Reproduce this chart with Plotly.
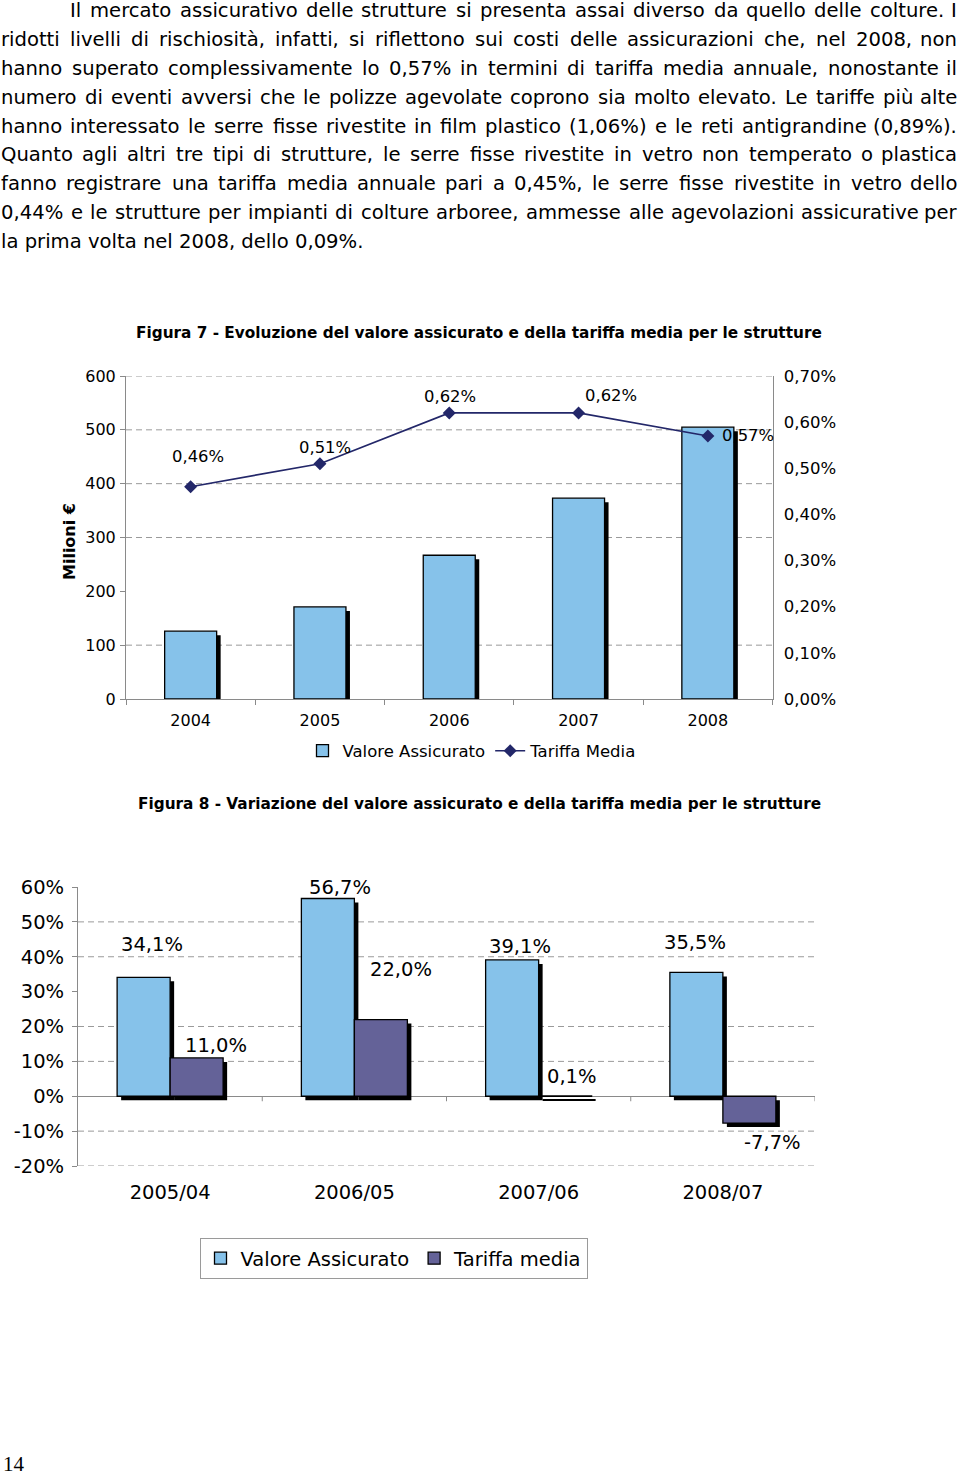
import plotly.graph_objects as go

# ------------------------------------------------------------------ data
PARAGRAPH_LINES = [
    "Il mercato assicurativo delle strutture si presenta assai diverso da quello delle colture. I",
    "ridotti livelli di rischiosità, infatti, si riflettono sui costi delle assicurazioni che, nel 2008, non",
    "hanno superato complessivamente lo 0,57% in termini di tariffa media annuale, nonostante il",
    "numero di eventi avversi che le polizze agevolate coprono sia molto elevato. Le tariffe più alte",
    "hanno interessato le serre fisse rivestite in film plastico (1,06%) e le reti antigrandine (0,89%).",
    "Quanto agli altri tre tipi di strutture, le serre fisse rivestite in vetro non temperato o plastica",
    "fanno registrare una tariffa media annuale pari a 0,45%, le serre fisse rivestite in vetro dello",
    "0,44% e le strutture per impianti di colture arboree, ammesse alle agevolazioni assicurative per",
    "la prima volta nel 2008, dello 0,09%.",
]
FIG7_TITLE = "Figura 7 - Evoluzione del valore assicurato e della tariffa media per le strutture"
FIG8_TITLE = "Figura 8 - Variazione del valore assicurato e della tariffa media per le strutture"
Y1_TITLE = "Milioni €"

YEARS = ["2004", "2005", "2006", "2007", "2008"]
VALORE_ASSICURATO = [126, 171, 267, 373, 505]      # Milioni €
TARIFFA_MEDIA = [0.46, 0.51, 0.62, 0.62, 0.57]     # %
NAME_VALORE_1 = "Valore Assicurato"
NAME_TARIFFA_1 = "Tariffa Media"
Y1_TICKS = [0, 100, 200, 300, 400, 500, 600]
Y2_TICKS = [0.0, 0.1, 0.2, 0.3, 0.4, 0.5, 0.6, 0.7]
GRID1 = [100, 300, 400, 500, 600]

PERIODI = ["2005/04", "2006/05", "2007/06", "2008/07"]
VAR_VALORE = [34.1, 56.7, 39.1, 35.5]              # %
VAR_TARIFFA = [11.0, 22.0, 0.1, -7.7]              # %
NAME_VALORE_2 = "Valore Assicurato"
NAME_TARIFFA_2 = "Tariffa media"
Y3_TICKS = [-20, -10, 0, 10, 20, 30, 40, 50, 60]
GRID2 = [-20, -10, 10, 20, 40, 50]

PAGE_NUMBER = "14"

# ------------------------------------------------------------------ style / geometry
W, H = 960, 1476
FONT = "DejaVu Sans"
C_BLUE = "#86C2EA"
C_PURPLE = "#646298"
C_LINE = "#232769"
C_AXIS = "#8a8a8a"
C_GRID = "#9a9a9a"

def px(x):
    return x / W

def py(y):
    return 1 - y / H

# chart 1 plot area (pixels)
C1_X0, C1_X1, C1_YT, C1_YB = 126, 772.5, 376, 699
# chart 2 plot area (pixels)
C2_X0, C2_X1, C2_YT, C2_YB = 78, 815, 887, 1166
Y1_RANGE = [0, 600]
Y2_RANGE = [0, 0.70]
Y3_RANGE = [-20, 60]

SHADOW_PX = 4
cat1_px = (C1_X1 - C1_X0) / len(YEARS)
cat2_px = (C2_X1 - C2_X0) / len(PERIODI)
BW1 = 52 / cat1_px
BW2 = 53 / cat2_px
sdx1 = SHADOW_PX / cat1_px
sdy1 = SHADOW_PX * (Y1_RANGE[1] - Y1_RANGE[0]) / (C1_YB - C1_YT)
sdx2 = SHADOW_PX / cat2_px
sdy2 = SHADOW_PX * (Y3_RANGE[1] - Y3_RANGE[0]) / (C2_YB - C2_YT)

def it_num(v, nd):
    return f"{v:.{nd}f}".replace(".", ",")

def it_pct(v, nd):
    return it_num(v, nd) + "%"

fig = go.Figure()

# ---------------- chart 1
fig.add_trace(go.Bar(
    x=YEARS, y=VALORE_ASSICURATO, base=[-sdy1] * len(YEARS),
    offset=-BW1 / 2 + sdx1, width=BW1, marker=dict(color="black", line=dict(width=0)),
    showlegend=False, hoverinfo="skip", xaxis="x", yaxis="y"))
fig.add_trace(go.Bar(
    x=YEARS, y=VALORE_ASSICURATO, offset=-BW1 / 2, width=BW1, name=NAME_VALORE_1,
    marker=dict(color=C_BLUE, line=dict(color="black", width=1.3)),
    legend="legend", xaxis="x", yaxis="y"))
fig.add_trace(go.Scatter(
    x=YEARS, y=TARIFFA_MEDIA, mode="lines+markers", name=NAME_TARIFFA_1,
    line=dict(color=C_LINE, width=1.6),
    marker=dict(symbol="diamond", size=10, color=C_LINE),
    legend="legend", xaxis="x", yaxis="y2"))

# ---------------- chart 2
fig.add_trace(go.Bar(
    x=PERIODI, y=VAR_VALORE, base=[-sdy2] * len(PERIODI),
    offset=-BW2 + sdx2, width=BW2, marker=dict(color="black", line=dict(width=0)),
    showlegend=False, hoverinfo="skip", xaxis="x2", yaxis="y3"))
fig.add_trace(go.Bar(
    x=PERIODI, y=VAR_VALORE, offset=-BW2, width=BW2, name=NAME_VALORE_2,
    marker=dict(color=C_BLUE, line=dict(color="black", width=1.3)),
    legend="legend2", xaxis="x2", yaxis="y3"))
fig.add_trace(go.Bar(
    x=PERIODI, y=VAR_TARIFFA, base=[-sdy2] * len(PERIODI),
    offset=sdx2, width=BW2, marker=dict(color="black", line=dict(width=0)),
    showlegend=False, hoverinfo="skip", xaxis="x2", yaxis="y3"))
fig.add_trace(go.Bar(
    x=PERIODI, y=VAR_TARIFFA, offset=0, width=BW2, name=NAME_TARIFFA_2,
    marker=dict(color=C_PURPLE, line=dict(color="black", width=1.3)),
    legend="legend2", xaxis="x2", yaxis="y3"))

# ------------------------------------------------------------------ annotations
ann = []

# justified paragraph, word by word
PARA_FS = 19.6
CHAR_W = {
    " ": 651, "%": 1946, "(": 799, ")": 799, ",": 651, ".": 651,
    "I": 604, "L": 1141, "Q": 1612,
    "a": 1255, "b": 1300, "c": 1126, "d": 1300, "e": 1260, "f": 721, "g": 1300,
    "h": 1298, "i": 569, "j": 569, "k": 1186, "l": 569, "m": 1995, "n": 1298,
    "o": 1253, "p": 1300, "q": 1300, "r": 842, "s": 1067, "t": 803, "u": 1298,
    "v": 1212, "w": 1675, "x": 1212, "y": 1212, "z": 1075, "à": 1255, "ù": 1298,
}

def tw(s):
    return sum(CHAR_W.get(c, 1303) for c in s) / 2048 * PARA_FS

PARA_RIGHT = 958
for i, line in enumerate(PARAGRAPH_LINES):
    x_start = 69 if i == 0 else 0
    base = 17 + 28.95 * i
    yc = base - 0.346 * PARA_FS
    words = line.split(" ")
    last = i == len(PARAGRAPH_LINES) - 1
    if last:
        ann.append(dict(text=line, x=px(x_start), y=py(yc), xref="paper", yref="paper",
                        xanchor="left", yanchor="middle", showarrow=False,
                        font=dict(size=PARA_FS, family=FONT, color="black"), borderpad=0))
        continue
    widths = [tw(w) for w in words]
    gap = (PARA_RIGHT - x_start - sum(widths)) / (len(words) - 1)
    x = x_start
    for j, w in enumerate(words):
        if j == len(words) - 1:
            ann.append(dict(text=w, x=px(PARA_RIGHT), y=py(yc), xref="paper", yref="paper",
                            xanchor="right", yanchor="middle", showarrow=False,
                            font=dict(size=PARA_FS, family=FONT, color="black"), borderpad=0))
        else:
            ann.append(dict(text=w, x=px(x), y=py(yc), xref="paper", yref="paper",
                            xanchor="left", yanchor="middle", showarrow=False,
                            font=dict(size=PARA_FS, family=FONT, color="black"), borderpad=0))
        x += widths[j] + gap

# titles
ann.append(dict(text="<b>" + FIG7_TITLE + "</b>", x=px(479), y=py(333), xref="paper", yref="paper",
                xanchor="center", yanchor="middle", showarrow=False,
                font=dict(size=15.3, family=FONT, color="black")))
ann.append(dict(text="<b>" + FIG8_TITLE + "</b>", x=px(479), y=py(804), xref="paper", yref="paper",
                xanchor="center", yanchor="middle", showarrow=False,
                font=dict(size=15.3, family=FONT, color="black")))
ann.append(dict(text="<b>" + Y1_TITLE + "</b>", x=px(69), y=py(542), xref="paper", yref="paper",
                xanchor="center", yanchor="middle", showarrow=False, textangle=-90,
                font=dict(size=16, family=FONT, color="black")))

# chart 1 line labels (dx, up) in px
LBL1_SHIFT = [(7, 30), (5, 16), (1, 16), (32, 17), (40, 0)]
for i, v in enumerate(TARIFFA_MEDIA):
    dx, up = LBL1_SHIFT[i]
    ann.append(dict(text=it_pct(v, 2), x=i, y=v, xref="x", yref="y2",
                    xanchor="center", yanchor="middle", showarrow=False,
                    xshift=dx, yshift=up, font=dict(size=16.4, family=FONT, color="black")))

# chart 2 bar labels
LBL2_BLUE = [(8.5, 33), (12.5, 11), (7.5, 13.5), (-1.5, 30)]
LBL2_PURP = [(19.5, 12.6), (20.5, 50), (6.5, 19), (23.5, -19)]
for i, v in enumerate(VAR_VALORE):
    dx, up = LBL2_BLUE[i]
    ann.append(dict(text=it_pct(v, 1), x=i - BW2 / 2, y=v, xref="x2", yref="y3",
                    xanchor="center", yanchor="middle", showarrow=False,
                    xshift=dx, yshift=up, font=dict(size=19.5, family=FONT, color="black")))
for i, v in enumerate(VAR_TARIFFA):
    dx, up = LBL2_PURP[i]
    ann.append(dict(text=it_pct(v, 1), x=i + BW2 / 2, y=v, xref="x2", yref="y3",
                    xanchor="center", yanchor="middle", showarrow=False,
                    xshift=dx, yshift=up, font=dict(size=19.5, family=FONT, color="black")))

# page number
ann.append(dict(text=PAGE_NUMBER, x=px(1), y=py(1464), xref="paper", yref="paper",
                xanchor="left", yanchor="middle", showarrow=False,
                font=dict(size=21, family="Liberation Serif", color="black")))

# ------------------------------------------------------------------ shapes
shapes = []
for g in GRID1:
    shapes.append(dict(type="line", xref="x domain", yref="y", x0=0, x1=1, y0=g, y1=g,
                       line=dict(color=C_GRID, width=1, dash="6px,4px"), layer="below"))
for g in GRID2:
    shapes.append(dict(type="line", xref="x2 domain", yref="y3", x0=0, x1=1, y0=g, y1=g,
                       line=dict(color=C_GRID, width=1, dash="6px,4px"), layer="below"))
tick_dy = 5 * (Y3_RANGE[1] - Y3_RANGE[0]) / (C2_YB - C2_YT)
for k in range(len(PERIODI)):
    shapes.append(dict(type="line", xref="x2", yref="y3", x0=k + 0.5, x1=k + 0.5,
                       y0=0, y1=-tick_dy, line=dict(color=C_AXIS, width=1), layer="below"))

# ------------------------------------------------------------------ layout
fig.update_layout(
    width=W, height=H, margin=dict(l=0, r=0, t=0, b=0, pad=0, autoexpand=False),
    paper_bgcolor="white", plot_bgcolor="rgba(0,0,0,0)",
    font=dict(family=FONT, color="black"),
    separators=",.", barmode="overlay",
    annotations=ann, shapes=shapes,
    xaxis=dict(domain=[px(C1_X0), px(C1_X1)], anchor="y", type="category",
               range=[-0.5, len(YEARS) - 0.5], showline=True, linecolor=C_AXIS,
               ticks="outside", tickson="boundaries", ticklen=5, tickcolor=C_AXIS,
               tickfont=dict(size=16), showgrid=False, fixedrange=True, automargin=False,
               ticklabelstandoff=7),
    yaxis=dict(domain=[py(C1_YB), py(C1_YT)], anchor="x", range=Y1_RANGE,
               tickvals=Y1_TICKS, showline=True, linecolor=C_AXIS, ticks="outside",
               ticklen=5, tickcolor=C_AXIS, tickfont=dict(size=16), showgrid=False,
               zeroline=False, ticklabelstandoff=1, automargin=False),
    yaxis2=dict(overlaying="y", side="right", anchor="x", range=Y2_RANGE,
                tickvals=Y2_TICKS, ticktext=[it_pct(v, 2) for v in Y2_TICKS], showline=True,
                linecolor=C_AXIS, ticks="", tickfont=dict(size=16.5), showgrid=False,
                zeroline=False, ticklabelstandoff=7, automargin=False),
    xaxis2=dict(domain=[px(C2_X0), px(C2_X1)], anchor="y3", type="category",
                range=[-0.5, len(PERIODI) - 0.5], showline=False, ticks="",
                tickfont=dict(size=19.5), showgrid=False, ticklabelstandoff=12, automargin=False),
    yaxis3=dict(domain=[py(C2_YB), py(C2_YT)], anchor="x2", range=Y3_RANGE,
                tickvals=Y3_TICKS, ticktext=[f"{v}%" for v in Y3_TICKS],
                showline=True, linecolor=C_AXIS, ticks="outside", ticklen=5,
                tickcolor=C_AXIS, tickfont=dict(size=19.5), showgrid=False,
                zeroline=True, zerolinecolor=C_AXIS, zerolinewidth=1, ticklabelstandoff=4,
                automargin=False),
    legend=dict(orientation="h", x=px(472), xanchor="center", y=py(751), yanchor="middle",
                font=dict(size=16.5), bgcolor="rgba(0,0,0,0)", borderwidth=0,
                itemwidth=30, traceorder="normal"),
    legend2=dict(orientation="h", x=px(393.5), xanchor="center", y=py(1258.5), yanchor="middle",
                 font=dict(size=19.5), bgcolor="white", bordercolor="#9a9a9a", borderwidth=1,
                 itemwidth=30, traceorder="normal"),
)

fig.write_html("out.html", config={"displayModeBar": False},
               post_script="document.body.style.margin='0px';")
